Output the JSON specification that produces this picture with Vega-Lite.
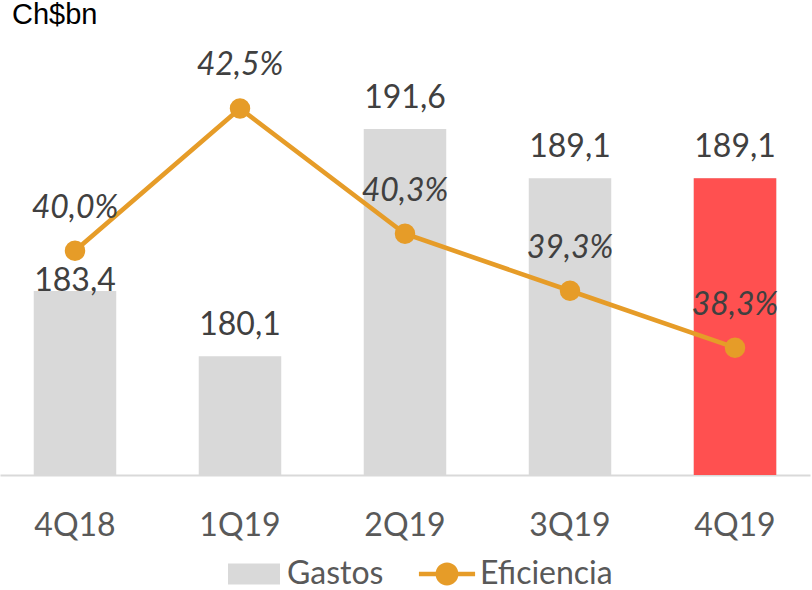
{
  "$schema": "https://vega.github.io/schema/vega-lite/v6.json",
  "width": 810,
  "height": 445,
  "autosize": {"type": "none"},
  "padding": {"left": 0, "top": 30, "right": 2, "bottom": 115},
  "title": {"text": "Ch$bn", "anchor": "start", "frame": "group", "font": "Liberation Sans", "fontSize": 29, "fontWeight": "normal", "color": "#000000", "baseline": "alphabetic", "offset": -23, "dx": 12},
  "data": {"values": [
    {"q": "4Q18", "gastos": 183.4, "ef": 40.0, "gl": "183,4", "el": "40,0%"},
    {"q": "1Q19", "gastos": 180.1, "ef": 42.5, "gl": "180,1", "el": "42,5%"},
    {"q": "2Q19", "gastos": 191.6, "ef": 40.3, "gl": "191,6", "el": "40,3%"},
    {"q": "3Q19", "gastos": 189.1, "ef": 39.3, "gl": "189,1", "el": "39,3%"},
    {"q": "4Q19", "gastos": 189.1, "ef": 38.3, "gl": "189,1", "el": "38,3%"}
  ]},
  "encoding": {
    "x": {"field": "q", "type": "nominal", "sort": null,
      "scale": {"paddingInner": 0.5, "paddingOuter": 0.2045},
      "axis": {"title": null, "labelAngle": 0, "labelFont": "Lato", "labelFontSize": 32, "labelColor": "#595959", "ticks": false, "tickSize": 0, "labelPadding": 60, "labelBaseline": "alphabetic", "domainColor": "#D9D9D9", "domainWidth": 2, "grid": false}}
  },
  "layer": [
    {
      "encoding": {
        "y": {"field": "gastos", "type": "quantitative", "scale": {"domain": [174.1, 196.6], "zero": false, "nice": false}, "axis": null}
      },
      "layer": [
        {"mark": {"type": "bar", "clip": true}, "encoding": {"color": {"datum": "Gastos", "type": "nominal", "scale": {"domain": ["Gastos", "Eficiencia"], "range": ["#D9D9D9", "#E69C28"]}, "legend": {
          "orient": "none", "direction": "horizontal", "legendX": 228, "legendY": 518, "title": null, "padding": 0,
          "symbolSize": 2704, "labelOffset": 7, "columnPadding": 34, "labelFont": "Lato", "labelFontSize": 32, "labelColor": "#595959", "labelBaseline": "middle",
          "encode": {"symbols": {"update": {
            "shape": {"signal": "datum.value === 'Gastos' ? 'M-1,-0.4H1V0.4H-1Z' : 'M-1.08,-0.085H1.08V0.085H-1.08Z M0.44,0A0.44,0.44 0 1 1 -0.44,0A0.44,0.44 0 1 1 0.44,0Z'"},
            "fill": {"signal": "datum.value === 'Gastos' ? '#D9D9D9' : '#E69C28'"},
            "stroke": {"value": "transparent"},
            "strokeWidth": {"value": 0},
            "opacity": {"value": 1}
          }}}
        }}}},
        {"transform": [{"filter": "datum.q === '4Q19'"}], "mark": {"type": "bar", "color": "#FF5050", "clip": true}},
        {"transform": [{"filter": "datum.q !== '4Q18'"}], "mark": {"type": "text", "font": "Lato", "fontSize": 32, "color": "#404040", "baseline": "alphabetic", "dy": -21}, "encoding": {"text": {"field": "gl"}}},
        {"transform": [{"filter": "datum.q === '4Q18'"}], "mark": {"type": "text", "font": "Lato", "fontSize": 32, "color": "#404040", "baseline": "alphabetic", "dy": 0}, "encoding": {"text": {"field": "gl"}}}
      ]
    },
    {
      "encoding": {
        "y": {"field": "ef", "type": "quantitative", "scale": {"domain": [36.065, 43.877], "zero": false, "nice": false}, "axis": null}
      },
      "layer": [
        {"mark": {"type": "line", "strokeWidth": 4.6, "point": {"filled": true, "size": 420, "color": "#E69C28", "opacity": 1}}, "encoding": {"color": {"datum": "Eficiencia", "type": "nominal"}}},
        {"mark": {"type": "text", "font": "Lato", "fontSize": 32, "fontStyle": "italic", "color": "#404040", "baseline": "alphabetic", "dy": -33}, "encoding": {"text": {"field": "el"}}}
      ]
    }
  ],
  "resolve": {"scale": {"y": "independent"}},
  "config": {"view": {"stroke": null}}
}
